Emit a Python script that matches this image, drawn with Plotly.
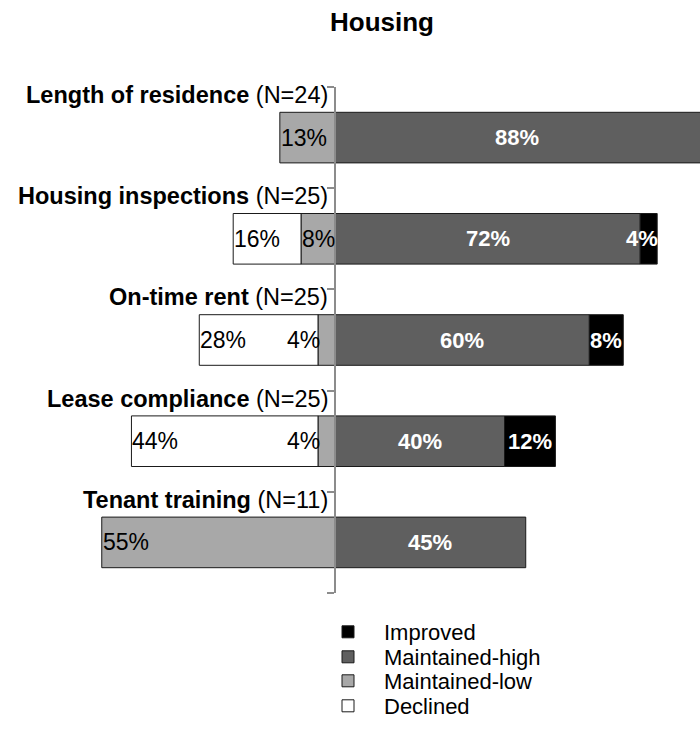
import plotly.graph_objects as go

# Survey outcome shares (%) per housing measure
categories = ["Length of residence", "Housing inspections", "On-time rent",
              "Lease compliance", "Tenant training"]
sample_sizes = [24, 25, 25, 25, 11]
improved = [0, 4, 8, 12, 0]
maintained_high = [88, 72, 60, 40, 45]
maintained_low = [13, 8, 4, 4, 55]
declined = [0, 16, 28, 44, 0]

series_names = ["Improved", "Maintained-high", "Maintained-low", "Declined"]

FONT = "Liberation Sans, Arial, Helvetica, sans-serif"
X_MIN, X_MAX = -79.0, 86.1
PLOT_TOP, PLOT_BOTTOM = 87, 593

colors = {
    "Improved": "#000000",
    "Maintained-high": "#5f5f5f",
    "Maintained-low": "#a8a8a8",
    "Declined": "#ffffff",
}

# one small legend box per series so the rows sit tightly stacked
legend_keys = {"Improved": "legend", "Maintained-high": "legend2",
               "Maintained-low": "legend3", "Declined": "legend4"}
legend_rows = {"Improved": 632, "Maintained-high": 657,
               "Maintained-low": 681, "Declined": 706}

pos = list(range(len(categories)))


def nz(vals, sign=1):
    return [sign * v if v else None for v in vals]


def bar(name, vals, sign):
    return go.Bar(y=pos, x=nz(vals, sign), orientation="h", name=name,
                  legend=legend_keys[name], hoverinfo="name+x",
                  marker=dict(color=colors[name], line=dict(color="#1a1a1a", width=1)))


fig = go.Figure()
# negative side stacks outward from zero: maintained-low first, then declined
fig.add_trace(bar("Maintained-low", maintained_low, -1))
fig.add_trace(bar("Declined", declined, -1))
# positive side: maintained-high from zero, improved after it
fig.add_trace(bar("Maintained-high", maintained_high, 1))
fig.add_trace(bar("Improved", improved, 1))

annotations = []

# category labels sit at the top of each band, right-aligned to the axis
for i, (cat, n) in enumerate(zip(categories, sample_sizes)):
    annotations.append(dict(
        x=0, y=i - 0.5, xref="x", yref="y", xanchor="right", yanchor="middle",
        xshift=-5, yshift=-8, showarrow=False,
        text=f"<b>{cat}</b> (N={n})",
        font=dict(family=FONT, size=23.5, color="#000000"),
    ))

NARROW = 6  # segments below this share get their label pinned at the outer edge


def seg_text(value, bold):
    return f"<b>{value}%</b>" if bold else f"{value}%"


for i in pos:
    # left side: dark regular labels, left-aligned in each segment
    edge = 0
    for vals in (maintained_low, declined):
        v = vals[i]
        if not v:
            continue
        left = edge - v
        font = dict(family=FONT, size=23, color="#000000")
        if v < NARROW:
            annotations.append(dict(x=left, y=i, xref="x", yref="y", xanchor="right",
                                    xshift=4, showarrow=False, text=seg_text(v, False), font=font))
        else:
            annotations.append(dict(x=left, y=i, xref="x", yref="y", xanchor="left",
                                    xshift=-1, showarrow=False, text=seg_text(v, False), font=font))
        edge = left
    # right side: white bold labels centred in the visible part of each segment
    edge = 0
    for vals in (maintained_high, improved):
        v = vals[i]
        if not v:
            continue
        right = edge + v
        font = dict(family=FONT, size=22, color="#ffffff")
        if v < NARROW:
            annotations.append(dict(x=right, y=i, xref="x", yref="y", xanchor="right",
                                    xshift=3, showarrow=False, text=seg_text(v, True), font=font))
        else:
            mid = (edge + min(right, X_MAX)) / 2
            annotations.append(dict(x=mid, y=i, xref="x", yref="y", xanchor="center",
                                    showarrow=False, text=seg_text(v, True), font=font))
        edge = right

legend_layout = {}
for name in series_names:
    py = legend_rows[name]
    legend_layout[legend_keys[name]] = dict(
        x=312 / 700, xanchor="left",
        y=(PLOT_BOTTOM - py) / (PLOT_BOTTOM - PLOT_TOP), yanchor="middle",
        font=dict(family=FONT, size=22, color="#000000"),
        bgcolor="rgba(0,0,0,0)", itemwidth=62,
    )

fig.update_layout(
    width=700, height=736,
    margin=dict(l=0, r=0, t=PLOT_TOP, b=736 - PLOT_BOTTOM),
    paper_bgcolor="white", plot_bgcolor="white",
    barmode="relative", bargap=0.5,
    title=dict(text="<b>Housing</b>", x=382 / 700, xanchor="center",
               y=1 - 22 / 736, yanchor="middle",
               font=dict(family=FONT, size=26, color="#000000")),
    xaxis=dict(range=[X_MIN, X_MAX], showgrid=False, zeroline=False,
               showticklabels=False, showline=False, fixedrange=True),
    yaxis=dict(range=[len(categories) - 0.5, -0.5], anchor="free",
               position=-X_MIN / (X_MAX - X_MIN),
               showline=True, linecolor="#8c8c8c", linewidth=2,
               ticks="outside", ticklen=7, tickwidth=1.5, tickcolor="#8c8c8c",
               tickvals=[k - 0.5 for k in range(len(categories) + 1)],
               showticklabels=False, showgrid=False, zeroline=False),
    annotations=annotations,
    showlegend=True,
    **legend_layout,
)

fig.write_html("out.html")
